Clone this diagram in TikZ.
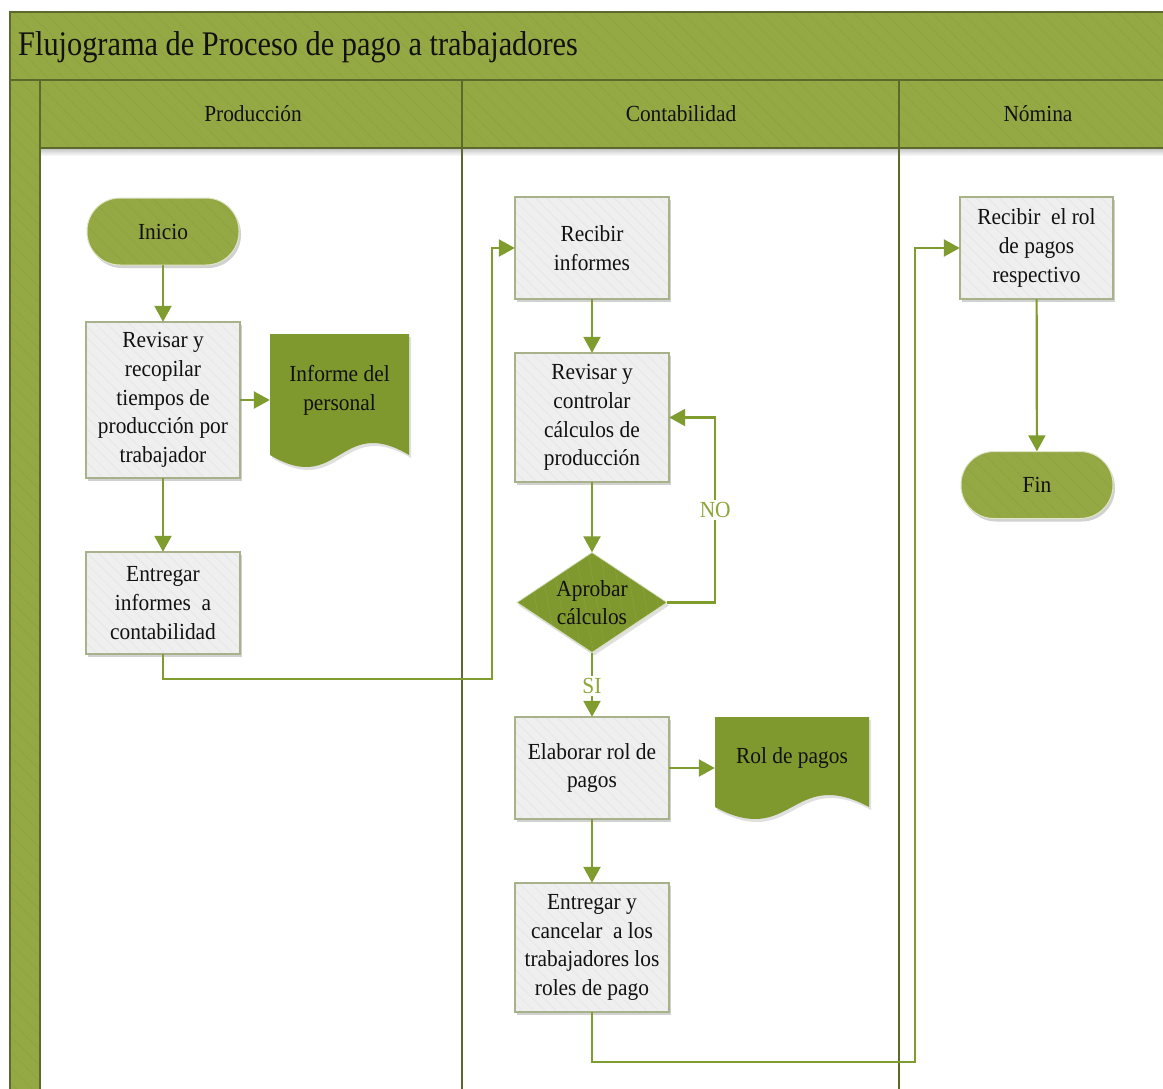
\documentclass[tikz,border=0pt]{standalone}
\usepackage{fontspec}
\setmainfont{Liberation Serif}[FakeStretch=0.93]
\newfontfamily\titlefont{Liberation Serif}[FakeStretch=0.88]
\usetikzlibrary{arrows.meta,patterns.meta,shadows}
\definecolor{poolg}{HTML}{94A844}
\definecolor{poolst}{HTML}{90A342}
\definecolor{poolb}{HTML}{5B6A2C}
\definecolor{docg}{HTML}{7F992E}
\definecolor{arrowg}{HTML}{7F9C2E}
\definecolor{boxf}{HTML}{EFEFEF}
\definecolor{boxst}{HTML}{E9E9E9}
\definecolor{boxb}{HTML}{A8B28A}
\definecolor{labg}{HTML}{8CA63A}
\definecolor{txt}{HTML}{111111}
\newcommand\mydocshape[4]{%
  \fill[black,opacity=0.12] ({#1+2},{#2+3}) -- ({#3+2},{#2+3}) -- ({#3+2},{#4-9}) .. controls ({(#1+#3)/2+2},{#4-53.6+3}) and ({(#1+#3)/2+2},{#4+29.6+3}) .. ({#1+2},{#4-9}) -- cycle;
  \fill[docg] (#1,#2) -- (#3,#2) -- (#3,{#4-12}) .. controls ({(#1+#3)/2},{#4-53.6}) and ({(#1+#3)/2},{#4+29.6}) .. (#1,{#4-12}) -- cycle;}
\tikzset{
 txtf/.style={font=\fontsize{23}{28.7}\selectfont, text=txt, align=center},
 gstripes/.style={postaction={pattern={Lines[angle=-45,distance=11pt,line width=0.8pt]},pattern color=poolst}},
 softshadow/.style={drop shadow={shadow xshift=2pt,shadow yshift=-3pt,fill=black,opacity=0.18}},
 processbox/.style={txtf, rectangle, fill=boxf, minimum width=154pt, inner sep=2pt, softshadow,
   postaction={pattern={Lines[angle=-45,distance=8pt,line width=1.2pt]},pattern color=boxst},
   postaction={draw=boxb, line width=1.2pt}},
 terminal/.style={txtf, rectangle, rounded corners=33pt, fill=poolg, minimum width=152pt, minimum height=67pt, softshadow, gstripes,
   postaction={draw=white!70!poolg, line width=1pt}},
 docnode/.style={txtf, rectangle, inner sep=0pt},
 flow/.style={draw=arrowg, line width=2.2pt, -{Triangle[length=16pt,width=17pt]}},
 lane/.style={draw=poolb, line width=1.6pt},
 flowlab/.style={font=\fontsize{23}{24}\selectfont, text=labg, fill=white, inner sep=2pt},
}
\begin{document}
\begin{tikzpicture}[x=1pt,y=-1pt]
\useasboundingbox (0,0) rectangle (1163,1088);
\clip (0,0) rectangle (1163,1088);
% pool
\fill[white] (0,0) rectangle (1163,1088);
\path[fill=poolg, gstripes] (10,12) rectangle (1190,80);
\path[fill=poolg, gstripes] (10,80) rectangle (40,1100);
\path[fill=poolg, gstripes] (40,80) rectangle (1190,148);
\shade[top color=black!35, bottom color=white, opacity=0.6] (40,149) rectangle (1190,156);
\draw[lane] (10,1100) -- (10,12) -- (1190,12);
\draw[lane] (10,80) -- (1190,80);
\draw[lane] (40,80) -- (40,1100);
\draw[lane] (40,148) -- (1190,148);
\draw[lane] (462,80) -- (462,1100);
\draw[lane] (899,80) -- (899,1100);
\node[anchor=west, font=\titlefont\fontsize{34.5}{38}\selectfont, text=txt, inner sep=0pt] (title) at (18,47) {Flujograma de Proceso de pago a trabajadores};
\node[txtf] (lprod) at (253,114) {Producción};
\node[txtf] (lcont) at (681,114) {Contabilidad};
\node[txtf] (lnom) at (1038,114) {Nómina};
% Producción
\node[terminal] (inicio) at (163,231.5) {Inicio};
\node[processbox, minimum height=156pt] (revisar) at (163,400) {Revisar y\\recopilar\\tiempos de\\producción por\\trabajador};
\mydocshape{270}{334}{409}{467}
\node[docnode, minimum width=139pt, minimum height=80pt] (informe) at (339.5,390) {Informe del\\personal};
\node[processbox, minimum height=102pt] (entregar) at (163,603) {Entregar\\informes\ \ a\\contabilidad};
% Contabilidad
\node[processbox, minimum height=102pt] (recibir) at (592,248) {Recibir\\informes};
\node[processbox, minimum height=129pt] (revctrl) at (592,417.5) {Revisar y\\controlar\\cálculos de\\producción};
\coordinate (decc) at (592,602.5);
\fill[black,opacity=0.12] ([shift={(2,3)}]decc) ++(0,-50) -- ++(75,50) -- ++(-75,50) -- ++(-75,-50) -- cycle;
\path[fill=docg, postaction={pattern={Lines[angle=-80,distance=12pt,line width=0.8pt]},pattern color=poolst!60!docg}, postaction={draw=white!70!docg, line width=0.8pt}] (decc) ++(0,-50) -- ++(75,50) -- ++(-75,50) -- ++(-75,-50) -- cycle;
\node[txtf, minimum width=150pt, minimum height=100pt, inner sep=0pt] (dec) at (decc) {Aprobar\\cálculos};
\node[processbox, minimum height=102pt] (elab) at (592,768) {Elaborar rol de\\pagos};
\mydocshape{715}{717}{869}{819}
\node[docnode, minimum width=154pt, minimum height=70pt] (rol) at (792,758) {Rol de pagos};
\node[processbox, minimum height=129pt] (entcanc) at (592,947.5) {Entregar y\\cancelar\ \ a los\\trabajadores los\\roles de pago};
% Nómina
\node[processbox, minimum width=153pt, minimum height=102pt] (recrol) at (1036.5,248) {Recibir\ \ el rol\\de pagos\\respectivo};
\node[terminal] (fin) at (1037,485) {Fin};
% connectors
\draw[flow] (inicio) -- (revisar);
\draw[flow] (revisar.east) -- (revisar.east -| informe.west);
\draw[flow] (revisar) -- (entregar);
\draw[flow] (entregar.south) -- ++(0,25) -| ([xshift=-23pt]recibir.west) -- (recibir.west);
\draw[flow] (recibir) -- (revctrl);
\draw[flow] (revctrl) -- (dec.north);
\draw[flow] (dec.east) -- ++(48,0) |- node[pos=0.25, flowlab] (no) {NO} (revctrl.east);
\draw[flow] (dec.south) -- node[flowlab, pos=0.52] (si) {SI} (elab.north);
\draw[flow] (elab.east) -- (elab.east -| rol.west);
\draw[flow] (elab) -- (entcanc);
\draw[flow] (entcanc.south) -- ++(0,50) -| ([xshift=-45pt]recrol.west) -- (recrol.west);
\draw[flow] (recrol) -- (fin);
\end{tikzpicture}
\end{document}
